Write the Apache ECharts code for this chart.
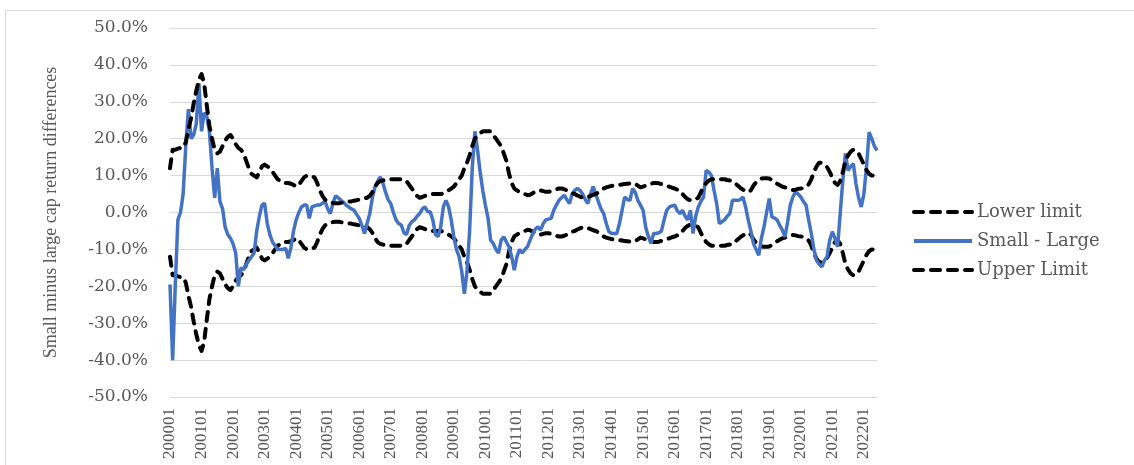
<!DOCTYPE html>
<html>
<head>
<meta charset="utf-8">
<script src="https://cdn.jsdelivr.net/npm/echarts@6/dist/echarts.min.js"></script>
<style>
html,body{margin:0;padding:0;background:#fff;}
#chart{width:1134px;height:465px;}
</style>
</head>
<body>
<div id="chart"></div>
<script>
// Categories: monthly, 200001 .. 202206
const months = [];
for (let y = 2000; y <= 2022; y++) {
  for (let m = 1; m <= 12; m++) {
    if (y === 2022 && m > 6) break;
    months.push(String(y) + (m < 10 ? '0' : '') + m);
  }
}

const yTicks = [-50, -40, -30, -20, -10, 0, 10, 20, 30, 40, 50];

// Upper Limit (%)
const upperLimit = [
  12, 17, 17, 17.3, 17.5, 17.6, 19, 22.5, 25.5, 29.5, 33, 36,
  37.5, 35, 29, 23.5, 20, 17, 16, 16.5, 18, 19.5, 20.5, 21,
  20, 18.5, 17.5, 17, 16, 14, 12, 10.5, 10, 9.5, 11, 12.5,
  13, 12.5, 12, 11, 10, 9, 8.5, 8, 8, 8, 7.8, 7.5,
  7, 7.5, 8.5, 9.5, 10, 10, 9.8, 9.5, 8, 6, 4.5, 3.5,
  3, 2.8, 2.6, 2.5, 2.5, 2.6, 2.8, 3, 3, 3, 3.2, 3.3,
  3.5, 3.6, 3.8, 4, 4.5, 5.5, 7, 8, 8.5, 8.7, 8.8, 9,
  9, 9, 9, 9, 9, 9, 8.5, 7.5, 6.5, 5.5, 4.5, 4,
  4.2, 4.5, 4.8, 5, 5, 5, 5, 5, 5.2, 5.5, 6, 6.5,
  7, 8, 9, 10, 12, 13.5, 15.5, 18, 20, 21, 21.5, 22,
  22, 22, 22, 21, 20, 19, 18, 16, 14, 10.5, 8, 6.5,
  6, 5.5, 5.2, 5, 4.7, 4.8, 5.2, 5.7, 6, 6, 5.8, 5.6,
  5.6, 5.8, 6, 6.3, 6.5, 6.5, 6.3, 6, 5.6, 5.2, 5, 4.6,
  4.3, 4, 4, 4.2, 4.5, 4.8, 5, 5.5, 6, 6.5, 6.8, 7,
  7.2, 7.3, 7.4, 7.5, 7.6, 7.7, 7.8, 7.9, 8, 7.8, 7.3, 6.8,
  7, 7.3, 7.6, 7.8, 8, 8, 7.9, 7.7, 7.5, 7.2, 7, 6.7,
  6.5, 6.2, 6, 5, 4.2, 3.6, 3.3, 3.3, 3.6, 4, 5.5, 7,
  8, 8.6, 9, 9, 9, 9, 9, 9, 8.8, 8.7, 8.6, 8,
  7.3, 6.7, 6.2, 5.8, 5.5, 6, 7.3, 8.2, 8.8, 9.2, 9.3, 9.3,
  9.2, 8.8, 8.3, 7.8, 7.4, 7, 6.8, 6.6, 6.3, 6.1, 6.2, 6.4,
  6.5, 6.6, 7, 7.6, 9, 11, 12.5, 13.5, 13.5, 13, 12.3, 11,
  9.5, 8, 7.5, 8.5, 11, 14, 15.5, 16.5, 17, 16.8, 16, 14.5,
  13, 11.5, 10.5, 10, 10, 10
];

// Lower limit (%)
const lowerLimit = [
  -12, -17, -17, -17.3, -17.5, -17.6, -19, -22.5, -25.5, -29.5, -33, -36,
  -37.5, -35, -29, -23.5, -20, -17, -16, -16.5, -18, -19.5, -20.5, -21,
  -20, -18.5, -17.5, -17, -16, -14, -12, -10.5, -10, -9.5, -11, -12.5,
  -13, -12.5, -12, -11, -10, -9, -8.5, -8, -8, -8, -7.8, -7.5,
  -7, -7.5, -8.5, -9.5, -10, -10, -9.8, -9.5, -8, -6, -4.5, -3.5,
  -3, -2.8, -2.6, -2.5, -2.5, -2.6, -2.8, -3, -3, -3, -3.2, -3.3,
  -3.5, -3.6, -3.8, -4, -4.5, -5.5, -7, -8, -8.5, -8.7, -8.8, -9,
  -9, -9, -9, -9, -9, -9, -8.5, -7.5, -6.5, -5.5, -4.5, -4,
  -4.2, -4.5, -4.8, -5, -5, -5, -5, -5, -5.2, -5.5, -6, -6.5,
  -7, -8, -9, -10, -12, -13.5, -15.5, -18, -20, -21, -21.5, -22,
  -22, -22, -22, -21, -20, -19, -18, -16, -14, -10.5, -8, -6.5,
  -6, -5.5, -5.2, -5, -4.7, -4.8, -5.2, -5.7, -6, -6, -5.8, -5.6,
  -5.6, -5.8, -6, -6.3, -6.5, -6.5, -6.3, -6, -5.6, -5.2, -5, -4.6,
  -4.3, -4, -4, -4.2, -4.5, -4.8, -5, -5.5, -6, -6.5, -6.8, -7,
  -7.2, -7.3, -7.4, -7.5, -7.6, -7.7, -7.8, -7.9, -8, -7.8, -7.3, -6.8,
  -7, -7.3, -7.6, -7.8, -8, -8, -7.9, -7.7, -7.5, -7.2, -7, -6.7,
  -6.5, -6.2, -6, -5, -4.2, -3.6, -3.3, -3.3, -3.6, -4, -5.5, -7,
  -8, -8.6, -9, -9, -9, -9, -9, -9, -8.8, -8.7, -8.6, -8,
  -7.3, -6.7, -6.2, -5.8, -5.5, -6, -7.3, -8.2, -8.8, -9.2, -9.3, -9.3,
  -9.2, -8.8, -8.3, -7.8, -7.4, -7, -6.8, -6.6, -6.3, -6.1, -6.2, -6.4,
  -6.5, -6.6, -7, -7.6, -9, -11, -12.5, -13.5, -13.5, -13, -12.3, -11,
  -9.5, -8, -7.5, -8.5, -11, -14, -15.5, -16.5, -17, -16.8, -16, -14.5,
  -13, -11.5, -10.5, -10, -10, -10
];

// Small - Large (%)
const smallMinusLarge = [
  -19.5, -40, -20, -2, 0, 5, 18, 28, 20, 21, 24, 35,
  22, 27, 26, 22, 12, 4, 12, 3, 1, -4, -6, -7,
  -8.5, -11, -20, -15, -15.5, -14, -13, -12, -11, -5, -1, 2,
  2.5, -3, -6, -8, -9, -10, -10, -10, -9.7, -12.4, -9.5, -5,
  -2, 0, 1.5, 2, 2, -1.6, 1.5, 1.8, 2, 2, 2.5, 3,
  1, -0.3, 2.5, 4.5, 4, 3.3, 2.8, 2, 1.5, 1, 0.6, -0.5,
  -1.6, -3.5, -5.7, -3, -0.3, 4, 7, 8.5, 9.6, 8, 5.5, 3.5,
  2.4, 0, -2, -3, -3.4, -5.5, -6, -3.5, -2.5, -2, -1, -0.3,
  1, 1.5, 0.2, 0.2, -2, -6, -6.5, -3.9, 1.5, 3.3, 1.5, -2,
  -6.6, -10, -12, -16, -22, -16, -5, 12, 22, 17, 11, 6,
  2, -1.5, -7.5, -8.4, -10, -11, -7.5, -6.6, -8, -9.3, -12, -15.6,
  -12, -10, -11, -10, -9.3, -7.5, -5.7, -4.5, -3.9, -4.8, -3, -2,
  -1.8, -1.6, 0.6, 2, 3.3, 4, 4.7, 3.5, 2.4, 5, 6, 6.5,
  6, 5, 3.5, 2.4, 5, 7, 5, 2.9, 1, -0.3, -3, -5.2,
  -5.7, -5.7, -5.7, -3, 0.6, 4.2, 3.5, 3.3, 6.5, 5.5, 3.3, 2,
  0.6, -4, -6.5, -8.4, -5.7, -5.7, -5.5, -5, -2, 0.6, 1.5, 1.8,
  2, 0.5, -0.3, 0.6, -1, -2, 0.6, -5.7, -1, 1.5, 3, 4.2,
  11.4, 11, 10, 6, 2.4, -3, -2.5, -2, -1, -0.3, 3.3, 3.3,
  3.3, 3.5, 4.2, 1.5, -2, -5, -8.4, -10, -11.6, -7, -3.9, 0,
  3.8, -1.2, -1.5, -2, -3.5, -4.8, -6.6, -2.5, 2, 4.2, 5.6, 5,
  4.2, 3, 2, -2, -5.7, -10, -13, -14, -14.7, -13, -12, -7.5,
  -5.2, -7, -9.3, -0.3, 8.7, 16, 11.4, 12.5, 13.2, 7.8, 4, 1.5,
  5, 12.3, 21.8, 20, 18, 16.8
];

const TEXT = '#595959';
const GRID = '#d9d9d9';
const dashStyle = { color: '#000000', width: 4, type: [9, 8], cap: 'round', join: 'round' };

const chart = echarts.init(document.getElementById('chart'), null, { renderer: 'canvas' });
chart.setOption({
  animation: false,
  backgroundColor: '#ffffff',
  graphic: [{
    type: 'rect', silent: true, z: -10,
    shape: { x: 5.5, y: 10.5, width: 1140, height: 470 },
    style: { fill: 'none', stroke: GRID, lineWidth: 1 }
  }],
  grid: { left: 170, right: 257, top: 28, bottom: 68, containLabel: false },
  legend: {
    orient: 'vertical', left: 912, top: 203, padding: 0,
    itemWidth: 58, itemHeight: 14, itemGap: 11,
    itemStyle: { opacity: 0 },
    lineStyle: { width: 4 },
    data: ['Lower limit', 'Small - Large', 'Upper Limit'],
    textStyle: { fontFamily: 'DejaVu Serif', fontSize: 18, lineHeight: 14, color: TEXT }
  },
  xAxis: {
    type: 'category', data: months, boundaryGap: false,
    axisLine: { show: false },
    axisTick: { show: false },
    axisLabel: {
      interval: 11, rotate: 90, margin: 11,
      fontFamily: 'Liberation Serif', fontSize: 17, color: TEXT
    },
    splitLine: { show: false }
  },
  yAxis: {
    type: 'value', min: yTicks[0], max: yTicks[yTicks.length - 1], interval: 10,
    name: 'Small minus large cap return differences',
    nameLocation: 'middle', nameGap: 110, nameRotate: 90,
    nameTextStyle: { fontFamily: 'Liberation Serif', fontSize: 18, color: TEXT },
    axisLine: { show: false }, axisTick: { show: false },
    axisLabel: {
      margin: 22, fontFamily: 'DejaVu Serif', fontSize: 17, color: TEXT,
      formatter: v => v.toFixed(1) + '%'
    },
    splitLine: { lineStyle: { color: GRID, width: 1 } }
  },
  series: [
    { name: 'Lower limit', type: 'line', data: lowerLimit, symbol: 'none', lineStyle: dashStyle, itemStyle: { color: '#000' }, z: 2 },
    { name: 'Small - Large', type: 'line', data: smallMinusLarge, symbol: 'none', lineStyle: { color: '#4472C4', width: 3.5 }, itemStyle: { color: '#4472C4' }, z: 3 },
    { name: 'Upper Limit', type: 'line', data: upperLimit, symbol: 'none', lineStyle: dashStyle, itemStyle: { color: '#000' }, z: 4 }
  ]
});
</script>
</body>
</html>
